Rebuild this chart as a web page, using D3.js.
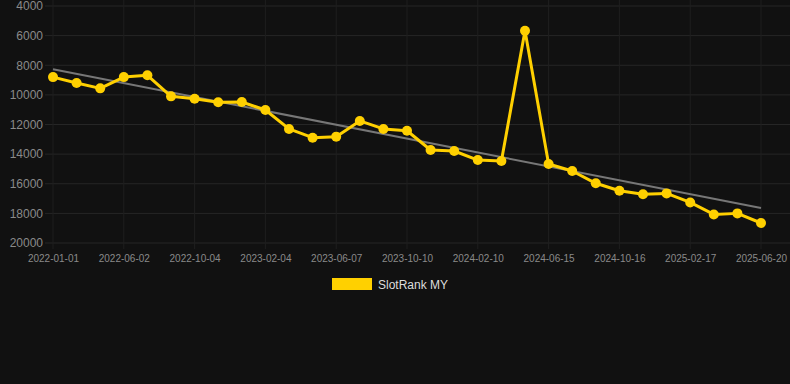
<!DOCTYPE html>
<html>
<head>
<meta charset="utf-8">
<script src="https://cdn.jsdelivr.net/npm/d3@7"></script>
<style>
  html, body { margin: 0; padding: 0; background: #111111; }
  svg { display: block; font-family: Arial, "Liberation Sans", sans-serif; }
</style>
</head>
<body>
<svg id="chart" width="790" height="384"></svg>
<script>
// categories (dates) - only every 3rd one is labelled on the axis
const dates = [
  "2022-01-01", "2022-02-20", "2022-04-12", "2022-06-02", "2022-07-13", "2022-08-23",
  "2022-10-04", "2022-11-14", "2022-12-25", "2023-02-04", "2023-03-17", "2023-04-27",
  "2023-06-07", "2023-07-18", "2023-08-29", "2023-10-10", "2023-11-20", "2023-12-31",
  "2024-02-10", "2024-03-22", "2024-05-03", "2024-06-15", "2024-07-26", "2024-09-05",
  "2024-10-16", "2024-11-26", "2025-01-07", "2025-02-17", "2025-03-30", "2025-05-10",
  "2025-06-20"
];
const rankValues = [
  8800, 9200, 9560, 8800, 8680, 10100, 10260, 10500, 10480, 11020,
  12300, 12890, 12820, 11760, 12300, 12420, 13720, 13790, 14400, 14460,
  5670, 14670, 15140, 15970, 16470, 16710, 16650, 17260, 18070, 18000,
  18650
];
const tickLabels = [
  "2022-01-01", "2022-06-02", "2022-10-04", "2023-02-04", "2023-06-07", "2023-10-10",
  "2024-02-10", "2024-06-15", "2024-10-16", "2025-02-17", "2025-06-20"
];
const yTicks = [4000, 6000, 8000, 10000, 12000, 14000, 16000, 18000, 20000];
const seriesName = "SlotRank MY";

const margin = { top: 6, right: 29, bottom: 141, left: 53 };
const width = 790 - margin.left - margin.right;
const height = 384 - margin.top - margin.bottom;
const gold = "#ffd000";

const svg = d3.select("#chart");
const g = svg.append("g").attr("transform", "translate(" + margin.left + "," + margin.top + ")");

const x = d3.scalePoint().domain(dates).range([0, width]);
const y = d3.scaleLinear().domain([4000, 20000]).range([0, height]); // reversed: rank

// horizontal grid
g.append("g")
  .selectAll("line")
  .data(yTicks)
  .join("line")
  .attr("x1", -8).attr("x2", width + 29)
  .attr("y1", d => y(d)).attr("y2", d => y(d))
  .attr("stroke", "#262626").attr("stroke-width", 1);

// vertical grid
g.append("g")
  .selectAll("line")
  .data(tickLabels)
  .join("line")
  .attr("x1", d => x(d)).attr("x2", d => x(d))
  .attr("y1", -6).attr("y2", height + 6)
  .attr("stroke", "#1f1f1f").attr("stroke-width", 1);

// y axis
const yAxis = g.append("g")
  .call(d3.axisLeft(y).tickValues(yTicks).tickFormat(d3.format("d")).tickSize(0).tickPadding(10));
yAxis.select(".domain").remove();
yAxis.selectAll("text").attr("fill", "#8a8a8a").attr("font-size", 12);

// x axis
const xAxis = g.append("g")
  .attr("transform", "translate(0," + height + ")")
  .call(d3.axisBottom(x).tickValues(tickLabels).tickSize(0).tickPadding(12));
xAxis.select(".domain").remove();
xAxis.selectAll("text").attr("fill", "#8a8a8a").attr("font-size", 10);

// trend line (least squares over the series)
const n = rankValues.length;
const meanI = d3.mean(rankValues, (d, i) => i);
const meanV = d3.mean(rankValues);
const slope = d3.sum(rankValues, (d, i) => (i - meanI) * (d - meanV)) /
              d3.sum(rankValues, (d, i) => (i - meanI) * (i - meanI));
const intercept = meanV - slope * meanI;
g.append("line")
  .attr("x1", x(dates[0])).attr("y1", y(intercept))
  .attr("x2", x(dates[n - 1])).attr("y2", y(intercept + slope * (n - 1)))
  .attr("stroke", "#777777").attr("stroke-width", 2);

// series line
const line = d3.line()
  .x((d, i) => x(dates[i]))
  .y(d => y(d));
g.append("path")
  .datum(rankValues)
  .attr("d", line)
  .attr("fill", "none")
  .attr("stroke", gold)
  .attr("stroke-width", 3)
  .attr("stroke-linejoin", "round");

g.append("g")
  .selectAll("circle")
  .data(rankValues)
  .join("circle")
  .attr("cx", (d, i) => x(dates[i]))
  .attr("cy", d => y(d))
  .attr("r", 5)
  .attr("fill", gold);

// legend
const legend = svg.append("g").attr("transform", "translate(332,278)");
legend.append("rect").attr("width", 40).attr("height", 12).attr("fill", gold);
legend.append("text")
  .attr("x", 46).attr("y", 10.5)
  .attr("fill", "#dddddd").attr("font-size", 12)
  .text(seriesName);
</script>
</body>
</html>
